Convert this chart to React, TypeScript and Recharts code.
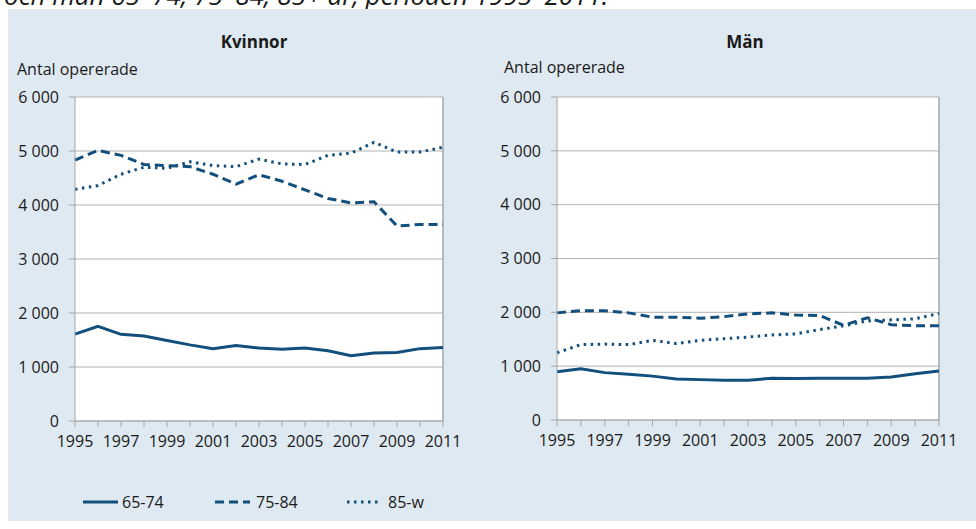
import React from 'react';
import { LineChart, Line, XAxis, YAxis, CartesianGrid, ReferenceLine } from 'recharts';

const years = [1995, 1996, 1997, 1998, 1999, 2000, 2001, 2002, 2003, 2004, 2005, 2006, 2007, 2008, 2009, 2010, 2011];
const yTicks = [0, 1000, 2000, 3000, 4000, 5000, 6000];

// Kvinnor
const women6574 = [1610, 1755, 1605, 1575, 1490, 1410, 1340, 1400, 1350, 1330, 1350, 1300, 1210, 1260, 1270, 1340, 1360];
const women7584 = [4830, 5010, 4920, 4750, 4730, 4710, 4570, 4385, 4560, 4440, 4280, 4120, 4040, 4060, 3610, 3640, 3640];
const women85w = [4290, 4360, 4570, 4700, 4680, 4800, 4730, 4710, 4850, 4760, 4750, 4920, 4960, 5160, 4980, 4980, 5070];

// Män
const men6574 = [895, 950, 880, 850, 815, 760, 750, 740, 740, 775, 770, 775, 775, 775, 800, 860, 910];
const men7584 = [1990, 2030, 2030, 1990, 1910, 1910, 1890, 1920, 1970, 1990, 1950, 1940, 1760, 1900, 1770, 1750, 1750];
const men85w = [1250, 1400, 1410, 1400, 1480, 1420, 1480, 1510, 1540, 1580, 1600, 1680, 1750, 1840, 1860, 1880, 1980];

const seriesNames = ['65-74', '75-84', '85-w'];

const LINE = '#134f7c';
const AXIS = '#a6a6a6';
const FONT = '"Open Sans", sans-serif';

const dashes = [undefined, '9 5', '2.5 4.5'];

const toRows = (a: number[], b: number[], c: number[]) =>
  years.map((year, i) => ({ year, s0: a[i], s1: b[i], s2: c[i] }));

const fmtY = (v: number) => (v === 0 ? '0' : `${v / 1000} 000`);
const fmtX = (v: number) => (v % 2 === 1 ? String(v) : '');

type PanelProps = {
  data: { year: number; s0: number; s1: number; s2: number }[];
  left: number;
  margin: { top: number; right: number; bottom: number; left: number };
};

const Panel = ({ data, left, margin }: PanelProps) => (
  <div style={{ position: 'absolute', left, top: 0 }}>
    <LineChart width={488} height={529} data={data} margin={margin}>
      <CartesianGrid vertical={false} stroke="#b3b3b3" fill="#ffffff" />
      <ReferenceLine x={2011} stroke={AXIS} strokeWidth={1.5} />
      <XAxis
        type="number"
        dataKey="year"
        domain={[1995, 2011]}
        ticks={years}
        interval={0}
        tickFormatter={fmtX}
        height={30}
        stroke={AXIS}
        tickSize={6}
        tickMargin={9}
        tick={{ fill: '#1a1a1a', fontSize: 16, fontFamily: FONT }}
      />
      <YAxis
        domain={[0, 6000]}
        ticks={yTicks}
        interval={0}
        tickFormatter={fmtY}
        width={60}
        stroke={AXIS}
        tickSize={6}
        tickMargin={10}
        tick={{ fill: '#1a1a1a', fontSize: 16, fontFamily: FONT }}
      />
      {['s0', 's1', 's2'].map((k, i) => (
        <Line
          key={k}
          type="linear"
          dataKey={k}
          name={seriesNames[i]}
          stroke={LINE}
          strokeWidth={3}
          strokeDasharray={dashes[i]}
          dot={false}
          isAnimationActive={false}
        />
      ))}
    </LineChart>
  </div>
);

const text: React.CSSProperties = { position: 'absolute', fontFamily: FONT, color: '#1a1a1a', whiteSpace: 'nowrap' };

const App = () => {
  const women = toRows(women6574, women7584, women85w);
  const men = toRows(men6574, men7584, men85w);
  return (
    <div style={{ position: 'absolute', left: 0, top: 0, width: 976, height: 529, background: '#fff', overflow: 'hidden', fontFamily: FONT }}>
      {/* caption of the figure, cut off at the top edge as in the source */}
      <svg width={976} height={9} style={{ position: 'absolute', left: 0, top: 0 }}>
        <text x={4} y={5} fontSize={26} fontStyle="italic" fontFamily={FONT} fill="#1a1a1a">
          och män 65–74, 75–84, 85+ år, perioden 1995–2011.
        </text>
      </svg>
      <div style={{ position: 'absolute', left: 8, top: 9, width: 968, height: 512, background: '#dfe9f1' }} />

      <Panel data={women} left={0} margin={{ top: 97, right: 45, bottom: 78, left: 15 }} />
      <Panel data={men} left={488} margin={{ top: 97, right: 37, bottom: 79, left: 9 }} />

      <div style={{ ...text, left: 204, top: 30, width: 100, textAlign: 'center', fontSize: 17, fontWeight: 700 }}>Kvinnor</div>
      <div style={{ ...text, left: 695, top: 30, width: 100, textAlign: 'center', fontSize: 17, fontWeight: 700 }}>Män</div>
      <div style={{ ...text, left: 17, top: 58, fontSize: 16 }}>Antal opererade</div>
      <div style={{ ...text, left: 504, top: 56, fontSize: 16 }}>Antal opererade</div>

      <svg width={400} height={24} style={{ position: 'absolute', left: 70, top: 490 }}>
        {seriesNames.map((n, i) => {
          const x = [13, 145, 277][i];
          return (
            <g key={n}>
              <line x1={x} x2={x + 35} y1={12} y2={12} stroke={LINE} strokeWidth={3} strokeDasharray={dashes[i]} />
              <text x={x + 39 + (i === 0 ? 0 : 2)} y={18} fontSize={16} fontFamily={FONT} fill="#1a1a1a">{n}</text>
            </g>
          );
        })}
      </svg>
    </div>
  );
};

export default App;
